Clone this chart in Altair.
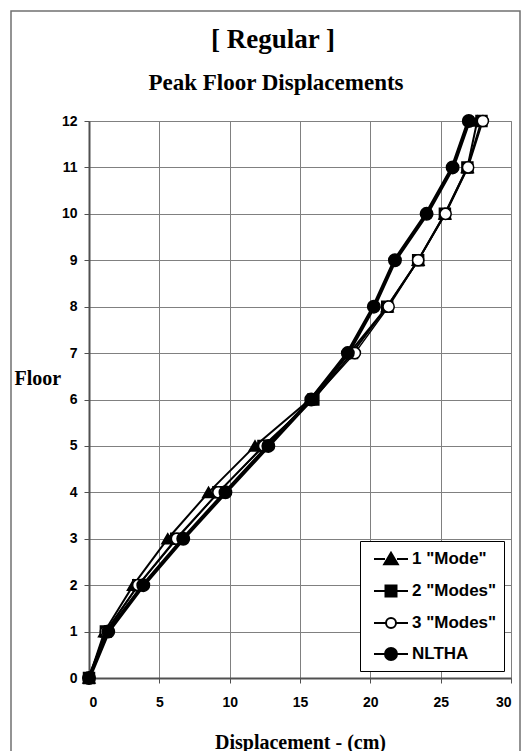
import altair as alt
import pandas as pd

# Floor levels and peak displacements (cm) for each analysis
floors = list(range(13))
mode1 = [0, 1.1, 3.15, 5.6, 8.5, 11.8, 15.7, 18.5, 21.2, 23.4, 25.3, 26.9, 27.6]
mode2 = [0, 1.2, 3.5, 6.2, 9.2, 12.4, 15.95, 18.7, 21.2, 23.4, 25.3, 26.9, 27.9]
mode3 = [0, 1.2, 3.5, 6.25, 9.2, 12.45, 15.9, 18.9, 21.3, 23.4, 25.35, 26.95, 28.0]
nltha = [0, 1.37, 3.86, 6.7, 9.7, 12.75, 15.8, 18.4, 20.25, 21.75, 24.0, 25.85, 27.0]

series_names = ['1 "Mode"', '2 "Modes"', '3 "Modes"', "NLTHA"]
series_values = [mode1, mode2, mode3, nltha]

main_title = ["[ Regular ]"]
sub_title = ["Peak Floor Displacements"]
x_ticks = [0, 5, 10, 15, 20, 25, 30]
y_ticks = list(range(13))

rows = []
for name, vals in zip(series_names, series_values):
    for f, v in zip(floors, vals):
        rows.append({"series": name, "floor": f, "disp": v})
df = pd.DataFrame(rows)

# marker / line style per series
styles = {
    '1 "Mode"': dict(shape="triangle-up", fill="black", size=140, line=2.0),
    '2 "Modes"': dict(shape="square", fill="black", size=120, line=2.0),
    '3 "Modes"': dict(shape="circle", fill="white", size=125, line=1.5),
    "NLTHA": dict(shape="circle", fill="black", size=155, line=4.0),
}

# legend glyphs: a short line with the marker in the middle
legend_paths = [
    "M-1.7,0H-0.6M0.6,0H1.7M0,-0.62L0.68,0.52L-0.68,0.52Z",
    "M-1.7,0H-0.55M0.55,0H1.7M-0.55,-0.55H0.55V0.55H-0.55Z",
    "M-1.7,0H-0.5M0.5,0H1.7M-0.5,0A0.5,0.5 0 1,0 0.5,0A0.5,0.5 0 1,0 -0.5,0Z",
    "M-1.7,0H-0.6M0.6,0H1.7M-0.6,0A0.6,0.6 0 1,0 0.6,0A0.6,0.6 0 1,0 -0.6,0Z",
]

x_enc = alt.X(
    "disp:Q",
    scale=alt.Scale(domain=[0, 30], nice=False),
    axis=alt.Axis(
        values=x_ticks,
        title="Displacement - (cm)",
        titleFont="Liberation Serif",
        titleFontSize=20,
        titleFontWeight="bold",
        titleColor="black",
        titleY=64,
        titleBaseline="middle",
        labelPadding=12,
    ),
)
y_enc = alt.Y(
    "floor:Q",
    scale=alt.Scale(domain=[0, 12], nice=False),
    axis=alt.Axis(
        values=y_ticks,
        title="Floor",
        titleAngle=0,
        titleAlign="left",
        titleBaseline="middle",
        titleX=-75,
        titleY=257,
        titleFont="Liberation Serif",
        titleFontSize=20,
        titleFontWeight="bold",
        titleColor="black",
        labelPadding=7,
    ),
)

layers = []
for name in series_names:
    st = styles[name]
    base = alt.Chart(df).transform_filter(alt.datum.series == name)
    layers.append(
        base.mark_line(color="black", strokeWidth=st["line"], clip=False).encode(
            x=x_enc, y=y_enc, order="floor:Q"
        )
    )
    layers.append(
        base.mark_point(
            shape=st["shape"],
            filled=True,
            fill=st["fill"],
            stroke="black",
            strokeWidth=1.5,
            size=st["size"],
            opacity=1,
            clip=False,
        ).encode(x=x_enc, y=y_enc)
    )

legend_props = dict(
    title=None,
    orient="none",
    legendX=271,
    legendY=420,
    fillColor="white",
    strokeColor="black",
    padding=7,
    rowPadding=11,
    symbolSize=400,
    symbolOpacity=1,
    symbolOffset=13,
    labelOffset=10,
    labelFont="Liberation Sans",
    labelFontSize=17,
    labelFontWeight="bold",
    labelColor="black",
)

# invisible layer that only feeds the legend
legend_layer = alt.Chart(df).mark_point(opacity=0).encode(
    x=x_enc,
    y=y_enc,
    shape=alt.Shape(
        "series:N",
        scale=alt.Scale(domain=series_names, range=legend_paths),
        legend=alt.Legend(**legend_props),
    ),
    fill=alt.Fill(
        "series:N",
        scale=alt.Scale(domain=series_names, range=["black", "black", "white", "black"]),
        legend=alt.Legend(**legend_props),
    ),
    stroke=alt.Stroke(
        "series:N",
        scale=alt.Scale(domain=series_names, range=["black", "black", "black", "black"]),
        legend=alt.Legend(**legend_props),
    ),
    strokeWidth=alt.StrokeWidth(
        "series:N",
        scale=alt.Scale(domain=series_names, range=[2, 2, 1.5, 4]),
        legend=alt.Legend(**legend_props),
    ),
)

# outer chart border
frame = alt.Chart(pd.DataFrame({"k": [0]})).mark_rect(
    fill=None, stroke="#707070", strokeWidth=1.5, clip=False
).encode(x=alt.value(-78), x2=alt.value(431), y=alt.value(-110), y2=alt.value(640))

title1 = alt.Chart(pd.DataFrame({"t": main_title})).mark_text(
    font="Liberation Serif", fontSize=27, fontWeight="bold", color="black", baseline="middle"
).encode(text="t:N", x=alt.value(184), y=alt.value(-81))
title2 = alt.Chart(pd.DataFrame({"t": sub_title})).mark_text(
    font="Liberation Serif", fontSize=23, fontWeight="bold", color="black", baseline="middle"
).encode(text="t:N", x=alt.value(187), y=alt.value(-38))

chart = (
    alt.layer(frame, *layers, legend_layer, title1, title2)
    .properties(
        width=422,
        height=557,
        background="white",
        autosize=alt.AutoSizeParams(type="none"),
        padding={"left": 89, "top": 121, "right": 10, "bottom": 73},
    )
    .configure_view(stroke="#808080", strokeWidth=1)
    .configure_axis(
        grid=True,
        gridColor="#808080",
        gridWidth=1,
        domainColor="#505050",
        domainWidth=2,
        tickColor="#505050",
        tickSize=5,
        tickWidth=1,
        labelFont="Liberation Sans",
        labelFontSize=14,
        labelFontWeight="bold",
        labelColor="black",
    )
)

chart.save("out.html", embed_options={"renderer": "svg", "actions": False})
